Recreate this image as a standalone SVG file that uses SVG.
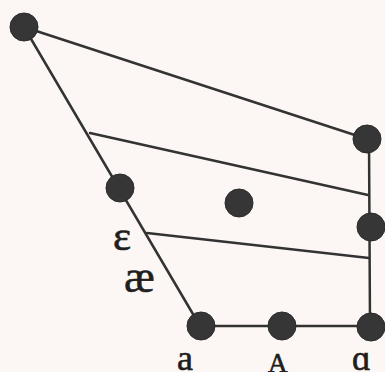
<svg xmlns="http://www.w3.org/2000/svg" width="385" height="372" viewBox="0 0 385 372">
<style>
.ln{stroke:#333;stroke-width:2.5;fill:none;stroke-linecap:round}
.nd{fill:#363636;stroke:#2a2a2a;stroke-width:1}
.lb{font-family:"Liberation Serif","DejaVu Serif",serif;fill:#1e1e1e;stroke:#1e1e1e;stroke-width:0.6}
</style>
<rect width="385" height="372" fill="#fcf7f4"/>
<g id="connectors">
<line class="ln" x1="24" y1="27" x2="200" y2="326"/>
<line class="ln" x1="24" y1="27" x2="367" y2="139"/>
<line class="ln" x1="369" y1="139" x2="370" y2="326"/>
<line class="ln" x1="90" y1="133" x2="368" y2="195"/>
<line class="ln" x1="147" y1="233" x2="369" y2="258"/>
<line class="ln" x1="200" y1="326" x2="371" y2="326"/>
</g>
<g id="n1"><circle class="nd" cx="24" cy="27" r="14"/></g>
<g id="n2"><circle class="nd" cx="120" cy="188" r="14"/></g>
<g id="n3"><circle class="nd" cx="367" cy="139" r="14"/></g>
<g id="n4"><circle class="nd" cx="239" cy="203" r="14"/></g>
<g id="n5"><circle class="nd" cx="371" cy="227" r="14"/></g>
<g id="n6"><circle class="nd" cx="201" cy="326" r="14"/></g>
<g id="n7"><circle class="nd" cx="282" cy="326" r="14"/></g>
<g id="n8"><circle class="nd" cx="371" cy="327" r="14"/></g>
<g id="labels">
<text class="lb" x="113" y="250" font-size="43">ε</text>
<text class="lb" x="124" y="292" font-size="46">æ</text>
<text class="lb" x="177" y="370" font-size="36">a</text>
<text class="lb" x="268" y="372" font-size="27">A</text>
<text class="lb" x="352" y="370" font-size="36">ɑ</text>
</g>
</svg>
